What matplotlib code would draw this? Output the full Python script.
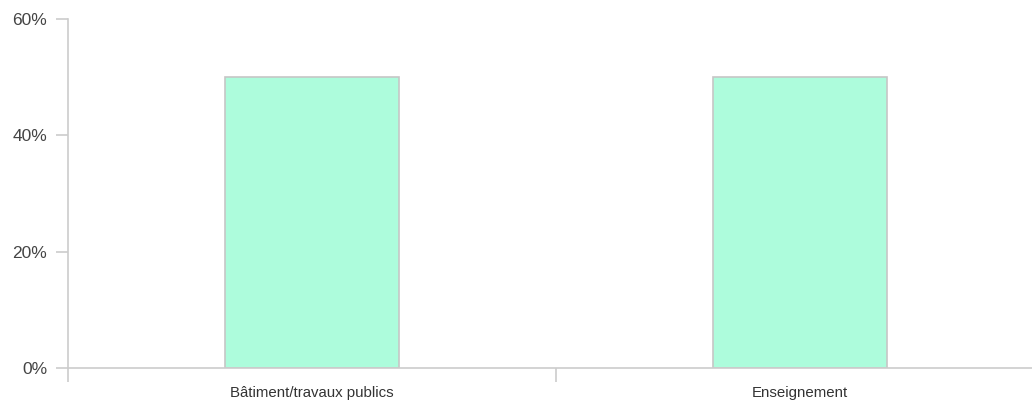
import matplotlib
matplotlib.use("Agg")
import matplotlib.pyplot as plt
from matplotlib.ticker import FuncFormatter

categories = ["Bâtiment/travaux publics", "Enseignement"]
values = [50, 50]
y_ticks = [0, 20, 40, 60]

plt.rcParams['font.family'] = ['Liberation Sans', 'DejaVu Sans']

fig = plt.figure(figsize=(10.32, 4.0), dpi=100)
ax = fig.add_axes([68/1032, 32/400, 976/1032, 349/400])

x = list(range(len(categories)))
ax.bar(x, values, width=0.355, color="#adfcdc", edgecolor="#c6c6c6", linewidth=1.2, zorder=2)

ax.set_xlim(-0.5, len(categories) - 0.5)
ax.set_ylim(0, 60)
ax.set_yticks(y_ticks)
ax.yaxis.set_major_formatter(FuncFormatter(lambda v, p: f"{int(v)}%"))

ax.set_xticks(x)
ax.set_xticklabels(categories, fontsize=10.8, color="#333333")
ax.tick_params(axis='x', which='major', length=0, pad=13)
ax.set_xticks([-0.5, 0.5], minor=True)
ax.tick_params(axis='x', which='minor', length=10, width=1.2, color="#cccccc")
ax.tick_params(axis='y', length=9, width=1.2, color="#cccccc", labelsize=12.5, labelcolor="#444444", pad=6)

for s in ["top", "right"]:
    ax.spines[s].set_visible(False)
for s in ["left", "bottom"]:
    ax.spines[s].set_color("#cccccc")
    ax.spines[s].set_linewidth(1.2)

fig.savefig("out.png", dpi=100)
